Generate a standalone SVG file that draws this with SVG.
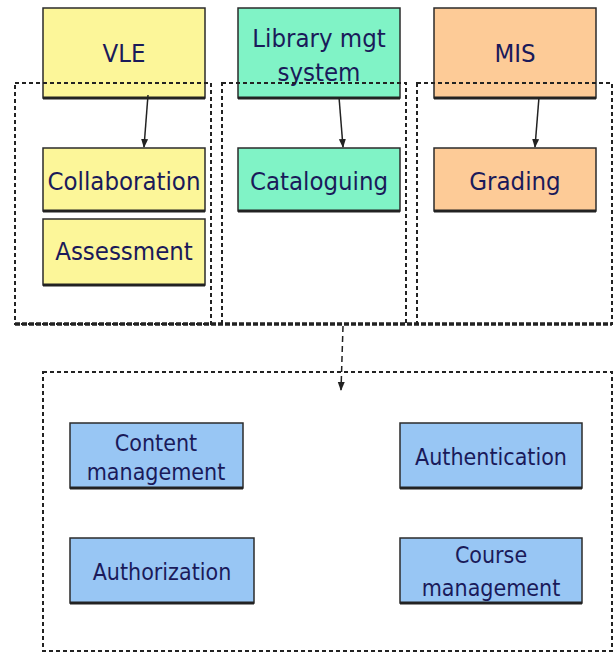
<svg xmlns="http://www.w3.org/2000/svg" width="614" height="654" viewBox="0 0 614 654">
<defs>
<style>
.lbl{font-family:'DejaVu Sans Condensed','DejaVu Sans',sans-serif;font-stretch:condensed;fill:#1a1a5a;text-anchor:middle}
.t{font-size:25.5px}
.b{font-size:23px}
.box{stroke:#2b2b2b;stroke-width:1.5}
.shadow{stroke:#222;stroke-width:3}
.yel{fill:#FCF699}
.grn{fill:#80F3C6}
.org{fill:#FDCB97}
.blu{fill:#98C6F4}
.grp{fill:none;stroke:#222;stroke-width:2;stroke-dasharray:4 3}
.conn{stroke:#222;stroke-width:1.5;fill:none}
</style>
<marker id="ah" markerWidth="9" markerHeight="8" refX="8" refY="4" orient="auto" markerUnits="userSpaceOnUse">
<path d="M0,0.5 L9,4 L0,7.5 Z" fill="#222"/>
</marker>
</defs>
<rect width="614" height="654" fill="#fff"/>

<g id="vle"><rect class="box yel" x="43" y="8" width="162" height="90"/><line class="shadow" x1="43" y1="98" x2="205" y2="98"/><text class="lbl t" x="124" y="62">VLE</text></g>
<g id="library"><rect class="box grn" x="238" y="8" width="162" height="90"/><line class="shadow" x1="238" y1="98" x2="400" y2="98"/><text class="lbl t" x="319" y="47" font-size="26">Library mgt</text><text class="lbl t" x="319" y="81" font-size="26">system</text></g>
<g id="mis"><rect class="box org" x="434" y="8" width="162" height="90"/><line class="shadow" x1="434" y1="98" x2="596" y2="98"/><text class="lbl t" x="515" y="62">MIS</text></g>

<g id="groups">
<rect class="grp" x="15" y="83" width="196" height="241"/>
<rect class="grp" x="222" y="83" width="184" height="241"/>
<rect class="grp" x="417" y="83" width="195" height="241"/>
<line x1="15" y1="324" x2="612" y2="324" stroke="#222" stroke-width="3.5" stroke-dasharray="5 2"/>
</g>

<g id="collaboration"><rect class="box yel" x="43" y="148" width="162" height="63"/><line class="shadow" x1="43" y1="211" x2="205" y2="211"/><text class="lbl t" x="124" y="190">Collaboration</text></g>
<g id="assessment"><rect class="box yel" x="43" y="219" width="162" height="66"/><line class="shadow" x1="43" y1="285" x2="205" y2="285"/><text class="lbl t" x="124" y="260">Assessment</text></g>
<g id="cataloguing"><rect class="box grn" x="238" y="148" width="162" height="63"/><line class="shadow" x1="238" y1="211" x2="400" y2="211"/><text class="lbl t" x="319" y="190">Cataloguing</text></g>
<g id="grading"><rect class="box org" x="434" y="148" width="162" height="63"/><line class="shadow" x1="434" y1="211" x2="596" y2="211"/><text class="lbl t" x="515" y="190">Grading</text></g>

<g id="services"><rect class="grp" x="43" y="372" width="569" height="279"/></g>

<g id="content"><rect class="box blu" x="70" y="423" width="173" height="65"/><line class="shadow" x1="70" y1="488" x2="243" y2="488"/><text class="lbl b" x="156" y="451">Content</text><text class="lbl b" x="156" y="480">management</text></g>
<g id="authentication"><rect class="box blu" x="400" y="423" width="182" height="65"/><line class="shadow" x1="400" y1="488" x2="582" y2="488"/><text class="lbl b" x="491" y="465">Authentication</text></g>
<g id="authorization"><rect class="box blu" x="70" y="538" width="184" height="65"/><line class="shadow" x1="70" y1="603" x2="254" y2="603"/><text class="lbl b" x="162" y="580">Authorization</text></g>
<g id="course"><rect class="box blu" x="400" y="538" width="182" height="65"/><line class="shadow" x1="400" y1="603" x2="582" y2="603"/><text class="lbl b" x="491" y="563">Course</text><text class="lbl b" x="491" y="596">management</text></g>

<g id="connectors">
<line class="conn" x1="148" y1="95" x2="144" y2="147" marker-end="url(#ah)"/>
<line class="conn" x1="339" y1="97" x2="343" y2="147" marker-end="url(#ah)"/>
<line class="conn" x1="539" y1="97" x2="535" y2="147" marker-end="url(#ah)"/>
<line class="conn" x1="343" y1="326" x2="341" y2="390" stroke-dasharray="6 4" marker-end="url(#ah)"/>
</g>
</svg>
